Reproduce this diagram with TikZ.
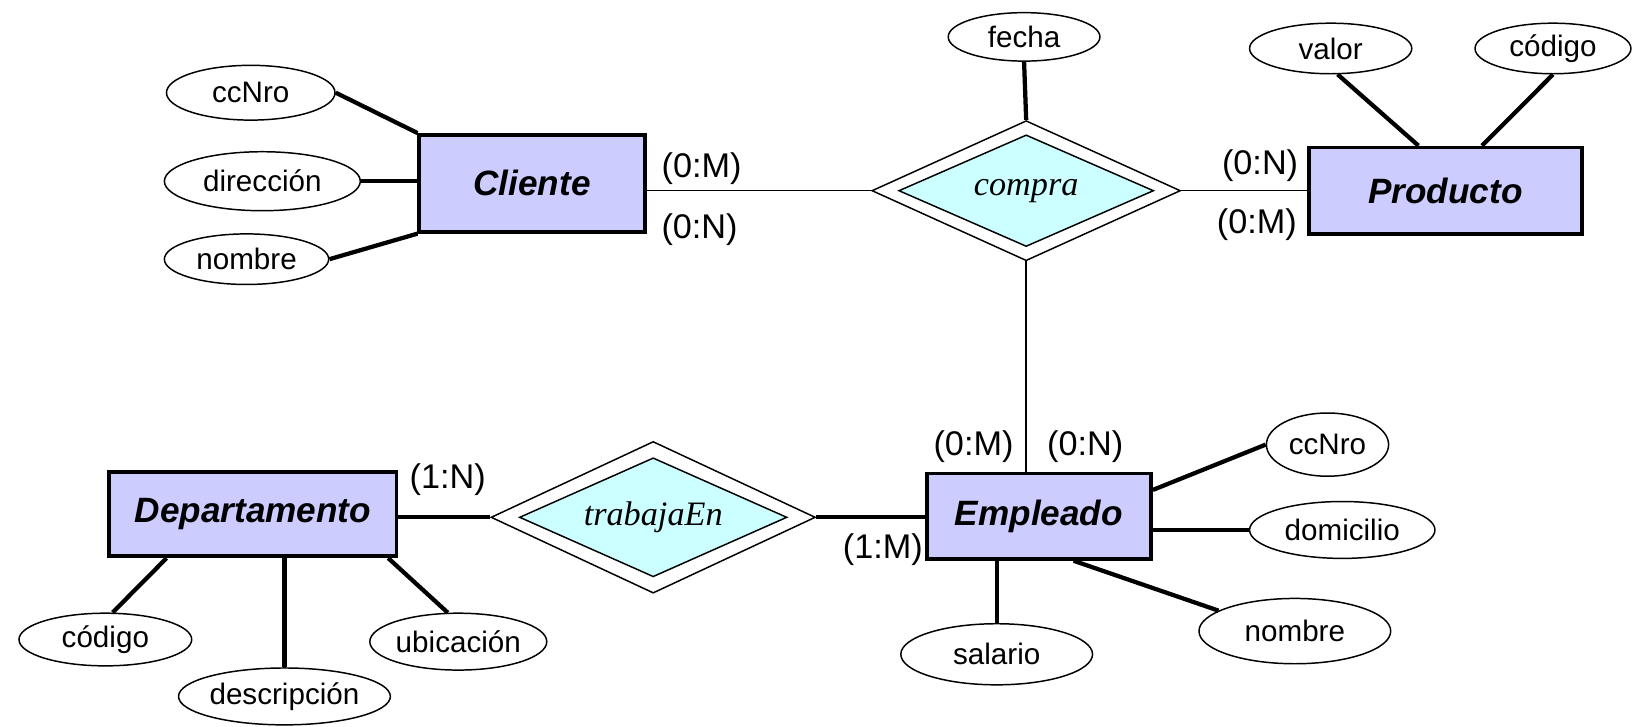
\documentclass[tikz,border=0pt]{standalone}
\usepackage{fontspec}
\setmainfont{Liberation Serif}
\setsansfont{Liberation Sans}
\usepackage{tikz}
\usetikzlibrary{shapes.geometric,calc}
\definecolor{entfill}{HTML}{CCCCFF}
\definecolor{relfill}{HTML}{CCFFFF}
\tikzset{
  entity/.style={draw,line width=2pt,fill=entfill,inner sep=0pt,font=\sffamily\bfseries\itshape\fontsize{19}{22}\selectfont},
  attr/.style={draw,ellipse,line width=0.8pt,fill=white,inner sep=0pt,font=\sffamily\fontsize{16}{19}\selectfont},
  relout/.style={draw,diamond,aspect=2.2,line width=0.8pt,fill=white,inner sep=0pt},
  relin/.style={draw,diamond,aspect=2.2,line width=0.8pt,fill=relfill,inner sep=0pt,font=\rmfamily\itshape\fontsize{18.5}{21}\selectfont},
  card/.style={inner sep=0pt,font=\sffamily\fontsize{18.5}{21}\selectfont},
  link/.style={line width=0.85pt},
  attlink/.style={line width=2.3pt},
}
\begin{document}
\begin{tikzpicture}[x=0.02cm,y=-0.02cm]
\useasboundingbox (0,0) rectangle (1568,690);

% entities
\node[entity,minimum width=4.28cm,minimum height=1.84cm] (cliente) at (505,174) {Cliente};
\node[entity,minimum width=5.18cm,minimum height=1.64cm] (producto) at (1372,181) {Producto};
\node[entity,minimum width=4.26cm,minimum height=1.62cm] (empleado) at (986,490) {Empleado};
\node[entity,minimum width=5.46cm,minimum height=1.6cm] (depto) at (240,488) {Departamento};

% relationships
\node[relout,minimum width=5.86cm,minimum height=2.66cm] (compraout) at (974,181) {};
\node[relin,minimum width=4.84cm,minimum height=2.12cm] (compra) at (974,181) {compra};
\node[relout,minimum width=6.16cm,minimum height=2.88cm] (trabajaout) at (620,491) {};
\node[relin,minimum width=5.08cm,minimum height=2.26cm] (trabaja) at (620,491) {trabajaEn};

% attributes
\foreach \n/\x/\y/\w/\h/\t in {cNro/238/88/3.2/1.04/ccNro, cDir/249/172/3.72/1.12/dirección,
    cNom/234/246/3.12/0.96/nombre, fecha/972/35/2.88/0.92/fecha,
    pValor/1263/46/3.08/0.96/valor, pCod/1474/46/2.96/0.96/código,
    eNro/1260/422/2.32/1.2/ccNro, eDom/1274/503/3.52/1.08/domicilio,
    eNom/1229/599/3.64/1.24/nombre, eSal/946/621/3.64/1.16/salario,
    dCod/100/607/3.28/1.0/código, dDesc/270/661/3.92/1.08/descripción,
    dUbic/435/609/3.2/1.08/ubicación} {
  \node[attr,minimum width=\w cm,minimum height=\h cm] (\n) at (\x,\y) {\t};
}

% cardinalities
\foreach \n/\x/\y/\t in {k1/666/160/{(0:M)}, k2/664/218/{(0:N)}, k3/1196/157/{(0:N)},
    k4/1193/213/{(0:M)}, k5/924/424/{(0:M)}, k6/1030/424/{(0:N)},
    k7/425/455/{(1:N)}, k8/838/522/{(1:M)}} {
  \node[card] (\n) at (\x,\y) {\t};
}

% relationship links
\draw[link] (compraout.west -| cliente.east) -- (compraout.west);
\draw[link] (compraout.east) -- (producto.west);
\draw[link] (compraout.south) -- (compraout.south |- empleado.north);
\draw[attlink] (trabajaout.west -| depto.east) -- (trabajaout.west);
\draw[attlink] (trabajaout.east) -- (trabajaout.east -| empleado.west);
\draw[attlink] (fecha.south) -- (compraout.north);

% attribute links
\draw[attlink] (cNro.east) -- (cliente.north west);
\draw[attlink] (cDir) -- (cDir -| cliente.west);
\draw[attlink] (cNom.east) -- (cliente.south west);
\draw[attlink] (pValor.-75) -- (producto.121);
\draw[attlink] (pCod.south) -- (producto.51);
\draw[attlink] (empleado.13) -- (eNro.west);
\draw[attlink] (eDom) -- (eDom -| empleado.east);
\draw[attlink] (empleado.-52) -- (eNom.165);
\draw[attlink] (eSal) -- (eSal |- empleado.south);
\draw[attlink] (depto.207) -- (dCod.75);
\draw[attlink] (dDesc) -- (dDesc |- depto.south);
\draw[attlink] (depto.-18) -- (dUbic.110);
\end{tikzpicture}
\end{document}
